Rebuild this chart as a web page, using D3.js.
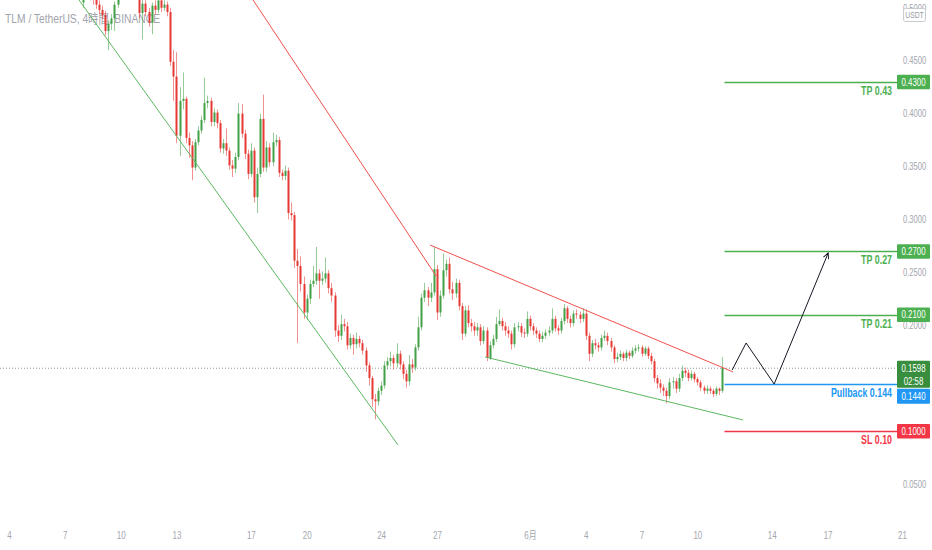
<!DOCTYPE html>
<html><head><meta charset="utf-8">
<script src="https://cdn.jsdelivr.net/npm/d3@7"></script>
<style>
html,body{margin:0;padding:0;background:#fff;}
svg{display:block;}
text{font-family:"Liberation Sans","Noto Sans CJK JP",sans-serif;}
</style></head><body><svg id="c" width="932" height="550"></svg>
<script>
// ---------- DATA ----------
const title = "TLM / TetherUS, 4時間, BINANCE";
const candleStart = "2021-05-08T00:00:00Z"; // 4h candles
const firstOpen = 0.505;
const closes = [
.512,.517,.512,.509,.503,.498,.493,.478,.485,.490,
.503,.517,.521,.531,.526,.536,.526,.517,.495,.504,
.496,.486,.502,.498,.507,.500,.503,.496,.449,.435,
.379,.412,.414,.377,.370,.349,.373,.384,.394,.410,
.412,.392,.401,.391,.367,.372,.365,.351,.348,.359,
.400,.381,.362,.343,.365,.321,.343,.395,.349,.368,
.354,.373,.375,.344,.341,.346,.306,.304,.261,.256,
.239,.212,.225,.239,.242,.249,.242,.244,.249,.235,
.228,.195,.190,.201,.199,.181,.188,.182,.187,.183,
.176,.162,.150,.130,.128,.138,.143,.162,.166,.169,
.164,.173,.163,.154,.147,.163,.160,.179,.198,.226,
.233,.226,.231,.253,.212,.228,.252,.258,.234,.230,
.240,.218,.192,.214,.202,.199,.195,.198,.185,.195,
.169,.181,.187,.201,.204,.199,.195,.192,.182,.198,
.199,.193,.192,.206,.199,.195,.192,.187,.190,.193,
.195,.206,.197,.195,.204,.216,.206,.202,.211,.210,
.206,.211,.190,.173,.183,.181,.179,.188,.190,.185,
.179,.168,.170,.173,.169,.174,.171,.176,.178,.179,
.173,.178,.171,.166,.150,.145,.141,.138,.133,.146,
.147,.140,.150,.157,.155,.150,.154,.149,.146,.141,
.138,.140,.138,.135,.140,.138,.1598];
const highs = [
.518,.522,.520,.515,.513,.507,.502,.497,.488,.494,
.506,.521,.528,.536,.535,.540,.539,.529,.520,.509,
.508,.500,.505,.507,.511,.510,.507,.506,.500,.460,
.458,.425,.439,.416,.382,.374,.376,.388,.398,.434,
.417,.415,.405,.404,.394,.376,.386,.368,.356,.363,
.410,.409,.385,.366,.372,.368,.349,.400,.418,.374,
.372,.382,.380,.378,.347,.351,.349,.316,.307,.272,
.265,.246,.229,.243,.256,.274,.253,.251,.264,.252,
.240,.231,.200,.210,.206,.203,.192,.191,.193,.190,
.186,.179,.165,.152,.135,.141,.147,.166,.170,.175,
.172,.183,.176,.166,.158,.172,.168,.182,.208,.230,
.240,.236,.240,.274,.257,.233,.268,.262,.264,.241,
.244,.243,.221,.218,.219,.206,.203,.202,.201,.199,
.198,.185,.191,.208,.215,.207,.203,.199,.195,.202,
.203,.202,.197,.213,.209,.202,.198,.195,.194,.196,
.199,.216,.209,.200,.207,.220,.218,.209,.214,.215,
.213,.216,.215,.193,.186,.187,.184,.191,.195,.193,
.188,.181,.174,.176,.175,.177,.176,.179,.181,.182,
.181,.180,.180,.174,.168,.153,.149,.144,.141,.150,
.151,.150,.154,.162,.160,.158,.157,.156,.151,.148,
.143,.143,.142,.140,.142,.141,.170];
const lows = [
.500,.509,.507,.503,.499,.494,.489,.474,.460,.479,
.478,.500,.514,.518,.521,.522,.522,.512,.490,.470,
.492,.482,.475,.494,.495,.496,.497,.492,.445,.412,
.372,.360,.404,.372,.358,.337,.346,.370,.381,.391,
.405,.388,.388,.386,.363,.362,.360,.347,.340,.344,
.356,.377,.357,.338,.340,.316,.306,.340,.345,.345,
.350,.350,.369,.340,.337,.337,.300,.299,.254,.183,
.232,.206,.205,.220,.236,.238,.225,.238,.240,.230,
.222,.189,.184,.186,.194,.177,.178,.172,.178,.179,
.172,.156,.143,.123,.111,.124,.134,.140,.158,.161,
.158,.160,.158,.149,.141,.143,.155,.157,.176,.195,
.222,.218,.222,.228,.205,.208,.225,.246,.230,.224,
.226,.214,.186,.189,.198,.194,.190,.190,.181,.182,
.166,.167,.178,.184,.199,.195,.190,.188,.177,.179,
.194,.189,.188,.189,.195,.191,.188,.184,.184,.187,
.190,.192,.194,.191,.192,.201,.202,.198,.199,.206,
.202,.203,.186,.166,.170,.177,.175,.176,.185,.181,
.175,.164,.165,.167,.166,.166,.168,.169,.173,.175,
.170,.171,.168,.163,.146,.140,.136,.133,.126,.130,
.140,.136,.137,.147,.151,.147,.148,.146,.143,.138,
.135,.135,.135,.132,.133,.134,.136];

const priceTicks = [0.05,0.20,0.25,0.30,0.35,0.40,0.45,0.50];
const dateTicks = ["2021-05-04","2021-05-07","2021-05-10","2021-05-13","2021-05-17","2021-05-20","2021-05-24","2021-05-27","2021-06-01","2021-06-04","2021-06-07","2021-06-10","2021-06-14","2021-06-17","2021-06-21"];

const lastPrice = 0.1598, countdown = "02:58";
const levelStart = "2021-06-11T11:00:00Z";
const levelPrices = [0.43, 0.27, 0.21, 0.144, 0.10];
const levelNames  = ["TP 0.43","TP 0.27","TP 0.21","Pullback 0.144","SL 0.10"];
const levelKinds  = ["tp","tp","tp","pb","sl"];

// trend lines: [time, price] pairs
const trendLines = [
  {kind:"g", pts:[["2021-05-07T18:20:00Z",0.5074],["2021-05-24T21:50:00Z",0.0868]]},
  {kind:"r", pts:[["2021-05-17T02:50:00Z",0.5074],["2021-05-26T23:00:00Z",0.2465]]},
  {kind:"r", pts:[["2021-05-26T15:10:00Z",0.2758],["2021-06-11T22:05:00Z",0.1558]]},
  {kind:"g", pts:[["2021-05-29T14:10:00Z",0.1700],["2021-06-12T11:05:00Z",0.1104]]}
];
const projection = [["2021-06-11T20:55:00Z",0.1577],["2021-06-12T14:55:00Z",0.1832],["2021-06-14T03:05:00Z",0.1444],["2021-06-17T00:45:00Z",0.2682]];

// ---------- CHART ----------
const plotR = 897, plotB = 522;
const col = {up:"#43a047", down:"#e53935", tp:"#4caf50", pb:"#2196f3", sl:"#f23645", last:"#388e3c", axis:"#a3a6ae"};
const svg = d3.select("#c");
const x = d3.scaleUtc().domain([new Date("2021-05-04T00:00:00Z"), new Date("2021-06-21T00:00:00Z")]).range([9, 902]);
const y = d3.scaleLinear().domain([0.10, 0.45]).range([431, 60.7]);

function narrow(sel, sx){
  sel.each(function(){
    const t = d3.select(this);
    const xv = +(t.attr("x") || 0);
    t.attr("x", xv/sx).attr("transform", `scale(${sx},1)`);
  });
  return sel;
}

const t0 = new Date(candleStart).getTime();
const candles = closes.map((c,i)=>({
  t: new Date(t0 + i*4*3600*1000),
  o: i===0 ? firstOpen : closes[i-1], c, h: highs[i], l: lows[i]
}));

const defs = svg.append("defs");
defs.append("clipPath").attr("id","plot")
  .append("rect").attr("x",0).attr("y",0).attr("width",plotR).attr("height",plotB);
defs.append("marker").attr("id","ah").attr("viewBox","0 0 10 10")
  .attr("refX",9).attr("refY",5).attr("markerWidth",7).attr("markerHeight",7).attr("orient","auto")
  .attr("markerUnits","userSpaceOnUse")
  .append("path").attr("d","M1,1 L9,5 L1,9").attr("fill","none").attr("stroke","#131722").attr("stroke-width",1.3);

// title (behind candles)
svg.append("text").attr("x",5).attr("y",23).attr("font-size",13).attr("fill","#a2a4ac")
  .attr("textLength",155).attr("lengthAdjust","spacingAndGlyphs").text(title);

const plot = svg.append("g").attr("clip-path","url(#plot)");

// last price dotted line
plot.append("line").attr("x1",0).attr("x2",plotR).attr("y1",y(lastPrice)+0.5).attr("y2",y(lastPrice)+0.5)
  .attr("stroke","#9598a1").attr("stroke-dasharray","1,2").attr("stroke-width",1);

// candles
const cg = plot.append("g");
candles.forEach(d=>{
  const cx = Math.round(x(d.t));
  const up = d.c >= d.o;
  const color = up ? col.up : col.down;
  cg.append("line").attr("x1",cx+0.5).attr("x2",cx+0.5).attr("y1",y(d.h)).attr("y2",y(d.l))
    .attr("stroke",color).attr("stroke-opacity",0.55).attr("stroke-width",1);
  const top = y(Math.max(d.o,d.c)), bot = y(Math.min(d.o,d.c));
  cg.append("rect").attr("x",cx-0.5).attr("width",2).attr("y",top).attr("height",Math.max(1,bot-top)).attr("fill",color);
});

// trend lines
trendLines.forEach(tl=>{
  plot.append("line")
    .attr("x1",x(new Date(tl.pts[0][0]))).attr("y1",y(tl.pts[0][1]))
    .attr("x2",x(new Date(tl.pts[1][0]))).attr("y2",y(tl.pts[1][1]))
    .attr("stroke", tl.kind==="g" ? "#5cb860" : "#f0524a").attr("stroke-width",1);
});

// level lines
const lvColor = k => k==="tp"?col.tp:(k==="pb"?col.pb:col.sl);
levelPrices.forEach((p,i)=>{
  const yy = Math.round(y(p))+0.5;
  plot.append("line").attr("x1",x(new Date(levelStart))).attr("x2",plotR).attr("y1",yy).attr("y2",yy)
    .attr("stroke",lvColor(levelKinds[i])).attr("stroke-width",1.3);
  narrow(svg.append("text").attr("x",892).attr("y",y(p)+13).attr("text-anchor","end")
    .attr("font-size",12.5).attr("font-weight","bold").attr("fill",lvColor(levelKinds[i])).text(levelNames[i]), 0.71);
});

// projection path
plot.append("path").attr("d", d3.line().x(d=>x(new Date(d[0]))).y(d=>y(d[1]))(projection))
  .attr("fill","none").attr("stroke","#131722").attr("stroke-width",1).attr("marker-end","url(#ah)");

// right price axis
const ax = svg.append("g").attr("transform",`translate(${plotR},0)`)
  .call(d3.axisRight(y).tickValues(priceTicks).tickFormat(d3.format(".4f")).tickSize(0).tickPadding(6));
ax.select(".domain").remove();
ax.selectAll("text").attr("fill",col.axis).attr("font-size",10).attr("font-family",null);
narrow(ax.selectAll("text"), 0.76);

// bottom time axis
const bx = svg.append("g").attr("transform",`translate(0,${plotB+4})`)
  .call(d3.axisBottom(x).tickValues(dateTicks.map(s=>new Date(s+"T00:00:00Z")))
    .tickFormat(d=> d.getUTCDate()===1 ? (d.getUTCMonth()+1)+"月" : String(d.getUTCDate())).tickSize(0).tickPadding(6));
bx.select(".domain").remove();
bx.selectAll("text").attr("fill",col.axis).attr("font-size",10.5).attr("font-family",null);
narrow(bx.selectAll("text"), 0.76);

// USDT box (over 0.5000 label)
svg.append("rect").attr("x",903.5).attr("y",8.5).attr("width",22).attr("height",13).attr("rx",2)
  .attr("fill","#fff").attr("stroke","#c8cad0");
narrow(svg.append("text").attr("x",914.5).attr("y",18.5).attr("text-anchor","middle").attr("font-size",9).attr("fill","#9598a1").text("USDT"), 0.75);

// price tags
function tag(yTop, h, fill, lines){
  svg.append("rect").attr("x",897).attr("y",yTop).attr("width",33).attr("height",h).attr("fill",fill).attr("rx",1);
  lines.forEach((s,k)=>{
    narrow(svg.append("text").attr("x",913.5).attr("y",yTop+10.8+k*13.5).attr("text-anchor","middle")
      .attr("font-size",10.5).attr("fill","#fff").text(s), 0.75);
  });
}
const f4 = d3.format(".4f");
levelPrices.forEach((p,i)=>{
  if(levelKinds[i]==="pb") return;
  tag(y(p)-7, 14.5, lvColor(levelKinds[i]), [f4(p)]);
});
const lastTop = y(lastPrice)-7;
tag(lastTop, 27, col.last, [f4(lastPrice), countdown]);
tag(lastTop+28, 15, col.pb, [f4(levelPrices[3])]);
</script></body></html>
